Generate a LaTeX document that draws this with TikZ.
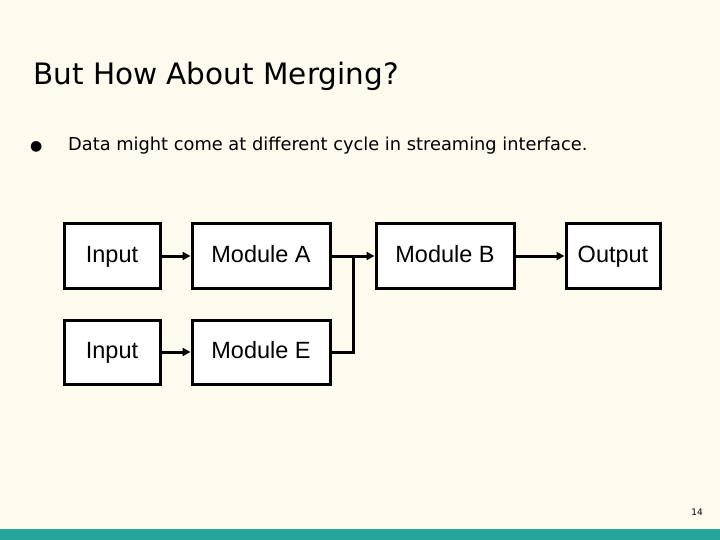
\documentclass[tikz,border=0pt]{standalone}
\usepackage{fontspec}
\setmainfont{DejaVu Sans}
\newfontfamily\arial{Liberation Sans}
\usetikzlibrary{arrows.meta}
\definecolor{bg}{HTML}{FEFAEE}
\definecolor{teal}{HTML}{26A69A}
\begin{document}
\begin{tikzpicture}[x=1pt,y=-1pt,
  box/.style={draw,line width=3pt,fill=white,minimum width=96pt,minimum height=64pt,font=\arial\fontsize{23.5}{26}\selectfont,inner sep=0pt,text height=17pt,text depth=5pt},
  wide/.style={box,minimum width=138pt},
  conn/.style={line width=3pt,-{Triangle[length=8pt,width=8pt]}},
  seg/.style={line width=3pt}]
\fill[bg] (0,0) rectangle (720,540);
\fill[teal] (0,529) rectangle (720,540);
\node[anchor=base west,font=\fontsize{29.5}{34}\selectfont,inner sep=0pt] (title) at (33,85) {But How About Merging?};
\node[anchor=base west,font=\fontsize{14}{16}\selectfont,inner sep=0pt] (bul) at (30,151) {●};
\node[anchor=base west,font=\fontsize{17.8}{20}\selectfont,inner sep=0pt] (txt) at (68,151) {Data might come at different cycle in streaming interface.};
\node[anchor=base,font=\fontsize{9}{10}\selectfont] (pg) at (697,515) {14};
\node[box] (in1) at (112,256) {Input};
\node[box] (in2) at (112,352) {Input};
\node[wide] (ma) at (261,256) {Module A};
\node[wide] (me) at (261,352) {Module E};
\node[wide] (mb) at (445,256) {Module B};
\node[box,minimum width=94pt] (out) at (613,256) {Output};
\coordinate (j) at (353,256);
\coordinate (j2) at (353,352);
\draw[conn] (in1) -- (ma);
\draw[conn] (in2) -- (me);
\draw[conn] (ma) -- (mb);
\draw[conn] (mb) -- (out);
\draw[seg] (me.east) -- (j2) -- (j);
\end{tikzpicture}
\end{document}
